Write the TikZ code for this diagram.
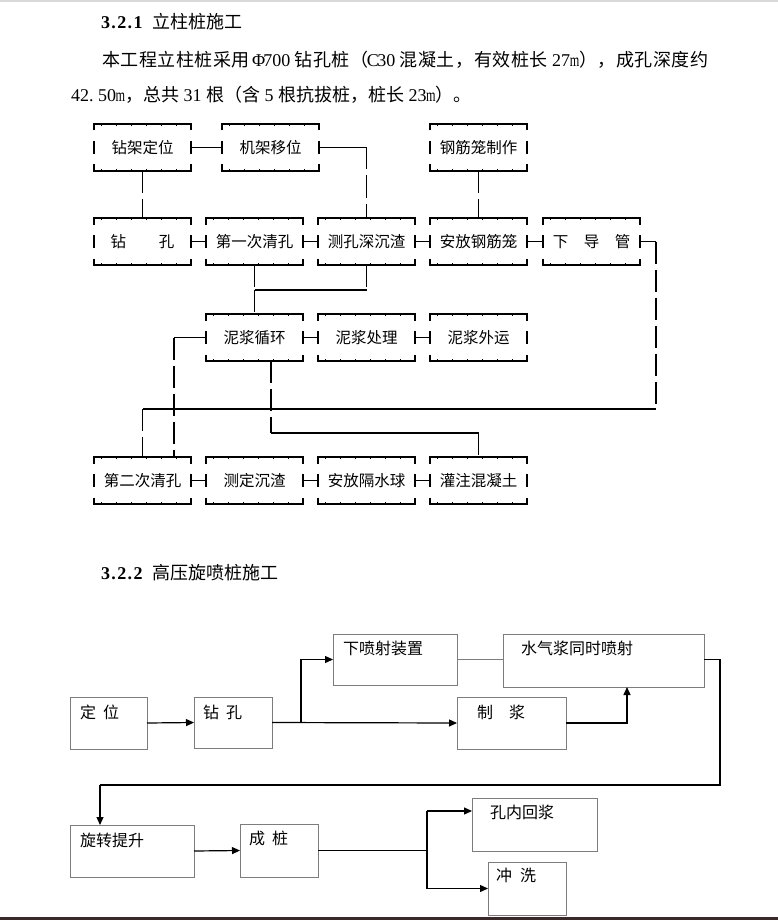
\documentclass[tikz,border=0pt]{standalone}
\usepackage{graphicx}
\usepackage{fontspec}
\setmainfont{Liberation Serif}
\newfontfamily\cjk{Noto Sans CJK SC}
\newfontfamily\cjkj[LetterSpace=3]{Noto Sans CJK SC}
\usetikzlibrary{arrows.meta,calc}
\definecolor{bx}{RGB}{125,125,125}
\definecolor{bot}{RGB}{60,40,40}
\newcommand\hw[1]{\makebox[9pt][c]{#1}}
\newcommand\hwl[1]{\makebox[9pt][l]{#1}}
\newcommand\hm{\makebox[9pt][c]{\scalebox{0.68}[1]{m}}}
\newcommand\hsp{\hspace{4.5pt}}
\begin{document}
\begin{tikzpicture}[x=1pt,y=-1pt,
  txt/.style={anchor=west, inner sep=0pt, outer sep=0pt, font=\fontsize{18}{20}\selectfont},
  bl/.style={line width=1.8pt, black},
  tk/.style={line width=1.3pt, black, dash pattern=on 1pt off 14pt, dash phase=-7pt},
  dl/.style={line width=1.8pt, black, dash pattern=on 22pt off 6pt},
  dbox/.style={minimum width=97pt, minimum height=47pt, inner sep=0pt, outer sep=0pt, anchor=north west, font=\cjk\fontsize{15.5}{17}\selectfont},
  box2/.style={draw=bx, line width=1pt, inner sep=0pt, outer sep=0pt, anchor=north west},
  t2/.style={anchor=west, inner sep=0pt, outer sep=0pt, font=\cjk\fontsize{16}{18}\selectfont},
  ar/.style={line width=1.2pt, black, -{Triangle[length=8pt,width=7pt]}},
  ln/.style={line width=1.2pt, black},
  thinln/.style={line width=1pt, bx}
]
\useasboundingbox (0,0) rectangle (778,920);
\fill[gray!30] (0,0) rectangle (778,2);
\fill[bot] (0,917) rectangle (778,920);

% ---------- text ----------
\node[txt] (h1) at (101,22) {\bfseries 3\kern1.4pt.\kern1.4pt2\kern1.4pt.\kern1.4pt1\hspace{10pt}{\mdseries\cjk 立柱桩施工}};
\node[txt] (l1) at (102,60) {{\cjkj 本工程立柱桩采用}\hsp\hw{Φ}\hw7\hw0\hw0\hsp{\cjkj 钻孔桩（}\hw C\hw3\hw0\hsp{\cjkj 混凝土，有效桩长}\hsp\hw2\hw7\hm{\cjkj ），成孔深度约}};
\node[txt] (l2) at (71,95) {\hw4\hw2\hwl{.}\hw5\hw0\hm{\cjk ，总共}\hsp\hw3\hw1\hsp{\cjk 根（含}\hsp\hw5\hsp{\cjk 根抗拔桩，桩长}\hsp\hw2\hw3\hm{\cjk ）。}};
\node[txt] (h2) at (101,573) {\bfseries 3\kern1.4pt.\kern1.4pt2\kern1.4pt.\kern1.4pt2\hspace{10pt}{\mdseries\cjk 高压旋喷桩施工}};

% ---------- chart 1 ----------
\node[dbox] (a1) at (94,124) {钻架定位};
\node[dbox] (a2) at (222,124) {机架移位};
\node[dbox] (a3) at (430,124) {钢筋笼制作};
\node[dbox] (b1) at (94,218) {钻\hspace{2.1em}孔};
\node[dbox] (b2) at (206,218) {第一次清孔};
\node[dbox] (b3) at (318,218) {测孔深沉渣};
\node[dbox] (b4) at (430,218) {安放钢筋笼};
\node[dbox] (b5) at (543,218) {下\hspace{1em}导\hspace{1em}管};
\node[dbox] (c2) at (206,314) {泥浆循环};
\node[dbox] (c3) at (318,314) {泥浆处理};
\node[dbox] (c4) at (430,314) {泥浆外运};
\node[dbox] (d1) at (94,457) {第二次清孔};
\node[dbox] (d2) at (206,457) {测定沉渣};
\node[dbox] (d3) at (318,457) {安放隔水球};
\node[dbox] (d4) at (430,457) {灌注混凝土};

\foreach \n in {a1,a2,a3,b1,b2,b3,b4,b5,c2,c3,c4,d1,d2,d3,d4}{
  \draw[bl] ([yshift=-6.5pt]\n.north west) -- (\n.north west) -- (\n.north east) -- ([yshift=-6.5pt]\n.north east);
  \draw[bl] ([yshift=6.5pt]\n.south west) -- (\n.south west) -- (\n.south east) -- ([yshift=6.5pt]\n.south east);
  \draw[bl] ([yshift=6.5pt]\n.west) -- ([yshift=-6.5pt]\n.west);
  \draw[bl] ([yshift=6.5pt]\n.east) -- ([yshift=-6.5pt]\n.east);
  \draw[tk] ([yshift=-1.4pt]\n.north west) -- ([yshift=-1.4pt]\n.north east);
  \draw[tk] ([yshift=1.4pt]\n.south west) -- ([yshift=1.4pt]\n.south east);
}

\draw[bl] (a1.east) -- (a2.west);
\coordinate (k1) at (b3.north |- a2.east);
\draw[bl] (a2.east) -- (k1);
\draw[dl] (k1) -- (b3.north);
\draw[dl] (a1.south) -- (b1.north);
\draw[dl] (a3.south) -- (b4.north);
\draw[bl] (b1.east) -- (b2.west);
\draw[bl] (b2.east) -- (b3.west);
\draw[bl] (b3.east) -- (b4.west);
\draw[bl] (b4.east) -- (b5.west);

\coordinate (k2) at (b2.south |- 0,290);
\coordinate (k3) at (b3.south |- k2);
\draw[dl] (b2.south) -- (k2);
\draw[dl] (b3.south) -- (k3);
\draw[bl] (k2) -- (k3);
\draw[dl] (k2) -- (c2.north);

\draw[bl] (c2.east) -- (c3.west);
\draw[bl] (c3.east) -- (c4.west);

\coordinate (k4) at ([xshift=-32pt]c2.west);
\draw[bl] (c2.west) -- (k4);
\draw[dl] (k4) -- (k4 |- d1.north);

\coordinate (k5) at ([xshift=16pt]b5.east);
\coordinate (k6) at (k5 |- 0,409);
\coordinate (k7) at (d1.north |- k6);
\draw[bl] (b5.east) -- (k5);
\draw[dl] (k5) -- (k6);
\draw[bl] (k6) -- (k7);
\draw[dl] (k7) -- (d1.north);

\coordinate (k8) at ([xshift=16.5pt]c2.south);
\coordinate (k9) at (k8 |- 0,433);
\coordinate (k10) at (d4.north |- k9);
\draw[dl] (k8) -- (k9);
\draw[bl] (k9) -- (k10);
\draw[dl] (k10) -- (d4.north);

\draw[bl] (d1.east) -- (d2.west);
\draw[bl] (d2.east) -- (d3.west);
\draw[bl] (d3.east) -- (d4.west);

% ---------- chart 2 ----------
\node[box2, minimum width=124pt, minimum height=51pt] (p1) at (333,634) {};
\node[box2, minimum width=201pt, minimum height=53pt] (p2) at (503,634) {};
\node[box2, minimum width=77pt, minimum height=52pt] (q1) at (70,697) {};
\node[box2, minimum width=78pt, minimum height=51pt] (q2) at (194,697) {};
\node[box2, minimum width=109pt, minimum height=52pt] (q3) at (457,697) {};
\node[box2, minimum width=124pt, minimum height=52pt] (r1) at (70,825) {};
\node[box2, minimum width=78pt, minimum height=53pt] (r2) at (240,824) {};
\node[box2, minimum width=125pt, minimum height=53pt] (s1) at (472,798) {};
\node[box2, minimum width=78pt, minimum height=53pt] (s2) at (488,862) {};

\node[t2] (p1t) at (343,648) {下喷射装置};
\node[t2] (p2t) at (521,648) {水气浆同时喷射};
\node[t2] (q1t) at (80,712) {定\hspace{.45em}位};
\node[t2] (q2t) at (203,712) {钻\hspace{.45em}孔};
\node[t2] (q3t) at (477,712) {制\hspace{1em}浆};
\node[t2] (r1t) at (80,840) {旋转提升};
\node[t2] (r2t) at (249,838) {成\hspace{.45em}桩};
\node[t2] (s1t) at (490,812) {孔内回浆};
\node[t2] (s2t) at (496,875) {冲\hspace{.5em}洗};

\draw[ar] (q1.east) -- (q2.west);
\draw[ar] (q2.east) -- (q3.west);
\coordinate (m1) at ([xshift=29pt]q2.east);
\draw[ar] (m1) |- (p1.west);
\draw[thinln] (p1.east) -- (p1.east -| p2.west);
\draw[ar] (q3.east) -| ([xshift=23.5pt]p2.south);
\coordinate (m3) at ([xshift=16pt]p1.east -| p2.east);
\coordinate (m4) at (m3 |- 0,785);
\coordinate (m6) at ([xshift=-32pt]r1.north);
\draw[ln] (p1.east -| p2.east) -- (m3) -- (m4) -- (m4 -| m6);
\draw[ar] (m4 -| m6) -- (m6);
\draw[ar] (r1.east) -- (r2.west);
\coordinate (m7) at ([xshift=109pt]r2.east);
\draw[ln] (r2.east) -- (m7);
\coordinate (m8) at (m7 |- 0,811);
\coordinate (m9) at (m7 |- s2.west);
\draw[ln] (m8) -- (m9);
\draw[ar] (m8) -- (m8 -| s1.west);
\draw[ar] (m9) -- (s2.west);
\end{tikzpicture}
\end{document}
